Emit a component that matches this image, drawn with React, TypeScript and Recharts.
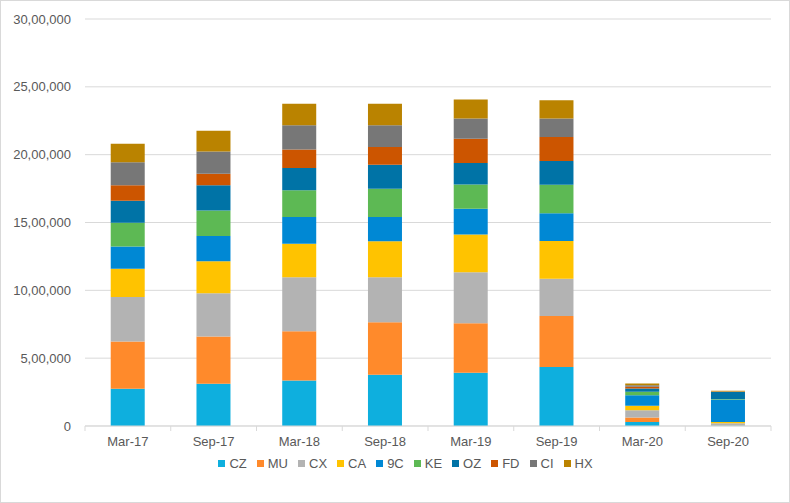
import React from 'react';
import { BarChart, Bar, XAxis, YAxis, CartesianGrid, Legend } from 'recharts';

const categories = ['Mar-17', 'Sep-17', 'Mar-18', 'Sep-18', 'Mar-19', 'Sep-19', 'Mar-20', 'Sep-20'];
const seriesNames = ['CZ', 'MU', 'CX', 'CA', '9C', 'KE', 'OZ', 'FD', 'CI', 'HX'];
const seriesColors = ['#0EAFDE', '#FF8A2B', '#B3B3B3', '#FFC300', '#0088D4', '#5DB954', '#0073A6', '#CC5500', '#777777', '#BA8300'];

const CZ = [274000, 311000, 336000, 378000, 392000, 434000, 30000, 4000];
const MU = [349000, 349000, 363000, 387000, 366000, 376000, 33000, 2000];
const CX = [327000, 319000, 398000, 332000, 376000, 276000, 54000, 15000];
const CA = [209000, 236000, 247000, 264000, 278000, 277000, 32000, 8000];
const C9 = [165000, 185000, 196000, 179000, 190000, 206000, 78000, 167000];
const KE = [175000, 189000, 197000, 209000, 179000, 210000, 25000, 3000];
const OZ = [162000, 185000, 164000, 177000, 157000, 174000, 25000, 52000];
const FD = [113000, 86000, 138000, 130000, 180000, 177000, 12000, 2000];
const CI = [171000, 164000, 177000, 160000, 148000, 136000, 12000, 2000];
const HX = [136000, 152000, 160000, 160000, 140000, 135000, 12000, 4000];

const yTicks = [0, 500000, 1000000, 1500000, 2000000, 2500000, 3000000];

const seriesValues = [CZ, MU, CX, CA, C9, KE, OZ, FD, CI, HX];

const data = categories.map((c, i) => {
  const row: Record<string, any> = { name: c };
  seriesNames.forEach((s, k) => {
    row[s] = seriesValues[k][i];
  });
  return row;
});

function formatIndian(v: number): string {
  if (v === 0) return '0';
  const s = String(Math.round(v));
  const last3 = s.slice(-3);
  let rest = s.slice(0, -3);
  const parts: string[] = [];
  while (rest.length > 2) {
    parts.unshift(rest.slice(-2));
    rest = rest.slice(0, -2);
  }
  if (rest.length) parts.unshift(rest);
  return parts.length ? parts.join(',') + ',' + last3 : last3;
}

const FONT = '"Liberation Sans", Arial, sans-serif';
const TEXT = '#595959';
const GRID = '#D9D9D9';

const CHART_W = 790;
const CHART_H = 503;
const PLOT_LEFT = 85;
const PLOT_RIGHT_MARGIN = 19;
const HALF_BAND = (CHART_W - PLOT_LEFT - PLOT_RIGHT_MARGIN) / categories.length / 2;

const XTick = (props: any) => {
  const { x, y, payload, index } = props;
  const isLast = index === categories.length - 1;
  return (
    <g>
      <line x1={x - HALF_BAND} x2={x - HALF_BAND} y1={y - 8} y2={y - 3} stroke={GRID} />
      {isLast && <line x1={x + HALF_BAND} x2={x + HALF_BAND} y1={y - 8} y2={y - 3} stroke={GRID} />}
      <text x={x} y={y + 12} textAnchor="middle" fill={TEXT} fontSize={13} fontFamily={FONT}>
        {payload.value}
      </text>
    </g>
  );
};

const LegendContent = () => (
  <div style={{ display: 'flex', justifyContent: 'center', alignItems: 'center', fontFamily: FONT, fontSize: 13, color: TEXT, paddingLeft: 50 }}>
    {seriesNames.map((s, k) => (
      <div key={s} style={{ display: 'flex', alignItems: 'center', marginRight: 10 }}>
        <span style={{ display: 'inline-block', width: 7, height: 7, background: seriesColors[k], marginRight: 4 }} />
        <span>{s}</span>
      </div>
    ))}
  </div>
);

export default function App() {
  return (
    <div style={{ position: 'absolute', left: 0, top: 0, width: CHART_W, height: CHART_H, background: '#fff' }}>
      <BarChart
        width={CHART_W}
        height={CHART_H}
        data={data}
        margin={{ top: 19, right: PLOT_RIGHT_MARGIN, left: 0, bottom: 32 }}
        barCategoryGap="30%"
      >
        <CartesianGrid vertical={false} stroke={GRID} strokeWidth={1} />
        <XAxis
          dataKey="name"
          axisLine={{ stroke: GRID }}
          tickLine={false}
          tick={<XTick />}
          height={30}
          interval={0}
        />
        <YAxis
          width={PLOT_LEFT}
          domain={[0, 3000000]}
          ticks={yTicks}
          tickFormatter={formatIndian}
          axisLine={false}
          tickLine={false}
          tickMargin={8}
          tick={{ fill: TEXT, fontSize: 13, fontFamily: FONT }}
          interval={0}
        />
        <Legend verticalAlign="bottom" content={<LegendContent />} />
        {seriesNames.map((s, k) => (
          <Bar key={s} dataKey={s} stackId="a" fill={seriesColors[k]} isAnimationActive={false} />
        ))}
      </BarChart>
      <div style={{ position: 'absolute', left: 0, top: 0, width: CHART_W, height: CHART_H, boxSizing: 'border-box', border: '1px solid #D9D9D9', pointerEvents: 'none' }} />
    </div>
  );
}
